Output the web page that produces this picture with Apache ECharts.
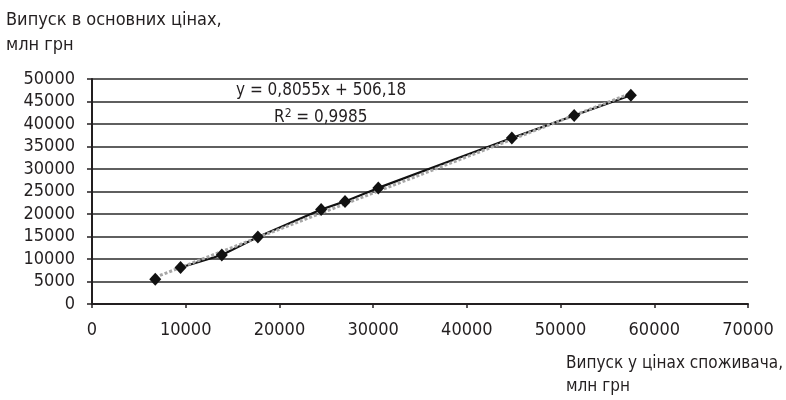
<!DOCTYPE html>
<html>
<head>
<meta charset="utf-8">
<script src="https://cdn.jsdelivr.net/npm/echarts@6/dist/echarts.min.js"></script>
<style>
  html, body { margin: 0; padding: 0; background: #fff; }
  #chart { width: 786px; height: 400px; }
</style>
</head>
<body>
<div id="chart"></div>
<script>
// випуск у цінах споживача (x) та в основних цінах (y), млн грн
var consumerPrices = [6750, 9450, 13850, 17700, 24450, 27000, 30550, 44800, 51450, 57500]
var basicPrices = [5500, 8100, 10900, 14900, 21000, 22800, 25800, 36900, 41900, 46400]
// кінці лінії тренду
var trendX = [6750, 57500]
var trendY = [5950, 46800]
var xTicks = [0, 10000, 20000, 30000, 40000, 50000, 60000, 70000]
var yTicks = [0, 5000, 10000, 15000, 20000, 25000, 30000, 35000, 40000, 45000, 50000]

var font = "'DejaVu Sans Condensed', 'Liberation Sans Narrow', sans-serif"
var ink = '#231f20'

function pairs(xs, ys) {
  return xs.map(function (x, i) { return [x, ys[i]] })
}

var points = pairs(consumerPrices, basicPrices)

var myChart = echarts.init(document.getElementById('chart'))
myChart.setOption({
  backgroundColor: '#fff',
  animation: false,
  grid: { left: 92, right: 38, top: 79, bottom: 96 },
  xAxis: {
    type: 'value',
    min: xTicks[0],
    max: xTicks[xTicks.length - 1],
    interval: xTicks[1] - xTicks[0],
    axisLine: { show: true, lineStyle: { color: ink, width: 2 } },
    axisTick: { show: true, length: 4, lineStyle: { color: ink, width: 1.5 } },
    axisLabel: { color: ink, fontFamily: font, fontSize: 18, margin: 17, formatter: function (v) { return String(v) } },
    splitLine: { show: false }
  },
  yAxis: {
    type: 'value',
    min: yTicks[0],
    max: yTicks[yTicks.length - 1],
    interval: yTicks[1] - yTicks[0],
    axisLine: { show: true, lineStyle: { color: ink, width: 2 } },
    axisTick: { show: true, length: 5, lineStyle: { color: ink, width: 1.5 } },
    axisLabel: { color: ink, fontFamily: font, fontSize: 18, margin: 17, formatter: function (v) { return String(v) } },
    splitLine: { show: true, lineStyle: { color: '#2a2a2a', width: 1.6 } }
  },
  graphic: [
    { type: 'text', left: 6, top: 8, style: { text: 'Випуск в основних цінах,\nмлн грн', font: '18px ' + font, lineHeight: 25, fill: ink } },
    { type: 'text', right: 3, top: 352, style: { text: 'Випуск у цінах споживача,\nмлн грн', font: '17px ' + font, lineHeight: 23, fill: ink } },
    { type: 'text', left: 236, top: 82, z: 10, style: { text: 'y = 0,8055x + 506,18', font: '17px ' + font, fill: ink } },
    {
      type: 'text', left: 274, top: 108, z: 10,
      style: {
        text: '{r|R}{s|2}{r| = 0,9985}',
        rich: {
          r: { font: '17px ' + font, fill: ink, color: ink },
          s: { font: '12px ' + font, fill: ink, color: ink, verticalAlign: 'top', padding: [0, 0, 8, 0] }
        }
      }
    }
  ],
  series: [
    {
      name: 'лінія',
      type: 'line',
      data: points.slice(1),
      showSymbol: false,
      symbol: 'none',
      lineStyle: { color: '#111', width: 2.2 },
      z: 2
    },
    {
      name: 'тренд',
      type: 'line',
      data: pairs(trendX, trendY),
      symbol: 'none',
      lineStyle: { color: '#a6a6a6', width: 3, type: [3, 2] },
      z: 3
    },
    {
      name: 'точки',
      type: 'scatter',
      data: points,
      symbol: 'diamond',
      symbolSize: [12, 13],
      itemStyle: { color: '#111', opacity: 1 },
      z: 4
    }
  ]
})
</script>
</body>
</html>
